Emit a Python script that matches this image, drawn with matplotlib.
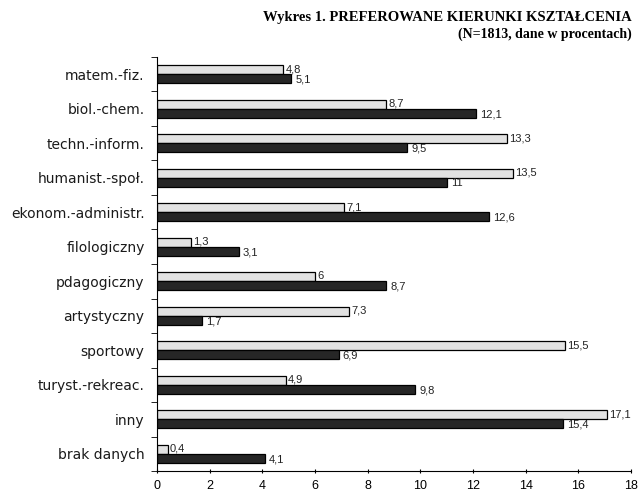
import matplotlib.pyplot as plt
import numpy as np

categories = ['matem.-fiz.', 'biol.-chem.', 'techn.-inform.', 'humanist.-społ.',
              'ekonom.-administr.', 'filologiczny', 'pdagogiczny', 'artystyczny',
              'sportowy', 'turyst.-rekreac.', 'inny', 'brak danych']
light = [4.8, 8.7, 13.3, 13.5, 7.1, 1.3, 6, 7.3, 15.5, 4.9, 17.1, 0.4]
dark = [5.1, 12.1, 9.5, 11, 12.6, 3.1, 8.7, 1.7, 6.9, 9.8, 15.4, 4.1]

fig = plt.figure(figsize=(6.39, 4.93), dpi=100)
ax = fig.add_axes([0.2457, 0.0446, 0.742, 0.8398])

y = np.arange(len(categories))
h = 0.26
ax.barh(y - h / 2, light, height=h, color='#e2e2e2', edgecolor='black', linewidth=0.9)
ax.barh(y + h / 2, dark, height=h, color='#262626', edgecolor='black', linewidth=0.9)

def lab(v):
    return f'{v:g}'.replace('.', ',')

for yi, v in zip(y, light):
    ax.text(v + 0.08, yi - h / 2 - 0.02, lab(v), va='center', ha='left', fontsize=8,
            family='Liberation Sans', color='#222222')
for yi, v in zip(y, dark):
    ax.text(v + 0.15, yi + h / 2 + 0.03, lab(v), va='center', ha='left', fontsize=8,
            family='Liberation Sans', color='#222222')

ax.set_xlim(0, 18)
ax.set_ylim(len(categories) - 0.5, -0.5)
ax.set_xticks(range(0, 19, 2))
ax.set_yticks(y)
ax.set_yticklabels(categories, fontsize=10, family='DejaVu Sans', color='#1a1a1a')
ax.set_yticks(np.arange(-0.5, len(categories), 1), minor=True)
ax.tick_params(axis='y', which='major', length=0, pad=9)
ax.tick_params(axis='y', which='minor', length=4, direction='out')
ax.tick_params(axis='x', length=3, direction='inout', labelsize=9, pad=5)
for t in ax.get_xticklabels():
    t.set_family('Liberation Sans')
ax.spines['top'].set_visible(False)
ax.spines['right'].set_visible(False)

fig.text(0.988, 0.965, 'Wykres 1. PREFEROWANE KIERUNKI KSZTAŁCENIA', ha='right', va='center',
         fontsize=10.5, family='Liberation Serif', fontweight='bold')
fig.text(0.988, 0.931, '(N=1813, dane w procentach)', ha='right', va='center',
         fontsize=10, family='Liberation Serif', fontweight='bold')

fig.savefig('out.png', dpi=100)
